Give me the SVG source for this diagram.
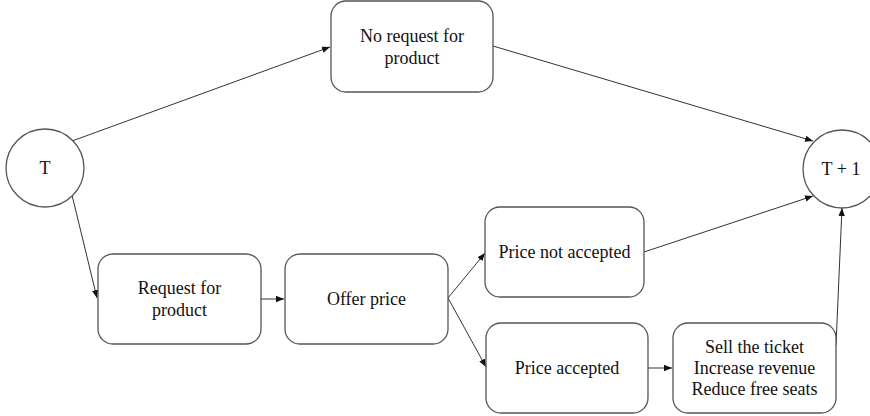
<svg xmlns="http://www.w3.org/2000/svg" width="870" height="416" viewBox="0 0 870 416">
<style>
.box{fill:#fff;stroke:#555;stroke-width:1.3}
.lbl{font-family:'Liberation Serif',Tinos,'Times New Roman','DejaVu Serif',serif;font-size:18px;fill:#111;text-anchor:middle}
.con{fill:none;stroke:#333;stroke-width:1}
</style>
<defs>
<marker id="ah" markerUnits="userSpaceOnUse" markerWidth="9" markerHeight="8" refX="8" refY="4" orient="auto">
<path d="M0,0.8 L8,4 L0,7.2 Z" fill="#111"/>
</marker>
</defs>
<rect width="870" height="416" fill="#fff"/>
<g id="connectors">
<line class="con" x1="72" y1="141" x2="330" y2="47" marker-end="url(#ah)"/>
<line class="con" x1="493" y1="46" x2="813" y2="141" marker-end="url(#ah)"/>
<line class="con" x1="72" y1="195" x2="97" y2="298" marker-end="url(#ah)"/>
<line class="con" x1="261" y1="299" x2="284" y2="299" marker-end="url(#ah)"/>
<line class="con" x1="448" y1="298" x2="485" y2="253" marker-end="url(#ah)"/>
<line class="con" x1="448" y1="298" x2="486" y2="367" marker-end="url(#ah)"/>
<line class="con" x1="644" y1="252" x2="813" y2="196" marker-end="url(#ah)"/>
<line class="con" x1="648" y1="368" x2="672" y2="368" marker-end="url(#ah)"/>
<line class="con" x1="836" y1="345" x2="842" y2="208" marker-end="url(#ah)"/>
</g>
<g id="T">
<circle class="box" cx="45" cy="168" r="39"/>
<text class="lbl" x="45" y="174">T</text>
</g>
<g id="T1">
<circle class="box" cx="842" cy="169" r="39"/>
<text class="lbl" x="841" y="175">T + 1</text>
</g>
<g id="noRequest">
<rect class="box" x="331" y="1" width="162" height="91" rx="15"/>
<text class="lbl" x="412" y="42">No request for</text>
<text class="lbl" x="412" y="64">product</text>
</g>
<g id="request">
<rect class="box" x="98" y="254" width="163" height="90" rx="15"/>
<text class="lbl" x="179.5" y="294">Request for</text>
<text class="lbl" x="179.5" y="316">product</text>
</g>
<g id="offer">
<rect class="box" x="285" y="254" width="163" height="90" rx="15"/>
<text class="lbl" x="366.5" y="305">Offer price</text>
</g>
<g id="notAccepted">
<rect class="box" x="485" y="207" width="159" height="90" rx="15"/>
<text class="lbl" x="564.5" y="258">Price not accepted</text>
</g>
<g id="accepted">
<rect class="box" x="486" y="323" width="162" height="90" rx="15"/>
<text class="lbl" x="567" y="374">Price accepted</text>
</g>
<g id="sell">
<rect class="box" x="673" y="323" width="163" height="90" rx="15"/>
<text class="lbl" x="754.5" y="353">Sell the ticket</text>
<text class="lbl" x="754.5" y="374">Increase revenue</text>
<text class="lbl" x="754.5" y="395">Reduce free seats</text>
</g>
</svg>
